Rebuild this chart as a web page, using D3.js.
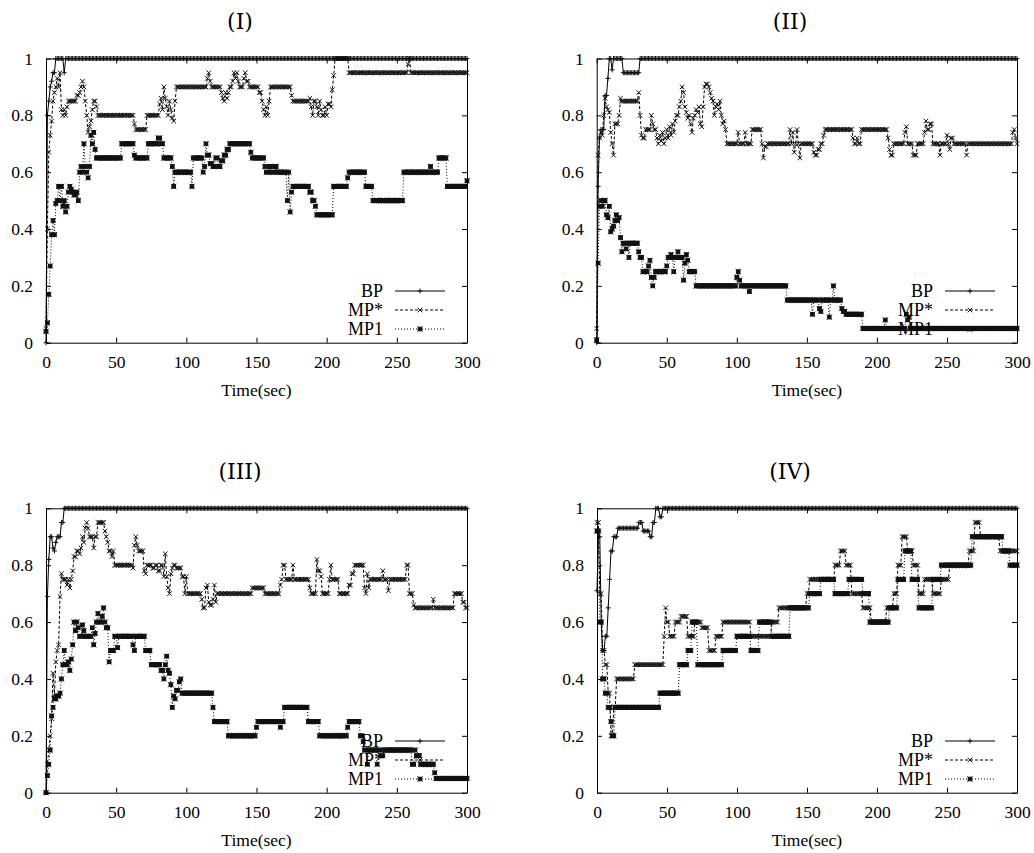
<!DOCTYPE html>
<html><head><meta charset="utf-8">
<script src="https://cdn.jsdelivr.net/npm/d3@7"></script>
<style>
body{margin:0;background:#fff}
svg text{font-family:"Liberation Serif","Times New Roman",serif;fill:#000}
</style>
</head><body><svg id="chart" width="1034" height="853"></svg>
<script>
// ---------- data ----------
const panelTitles = ["(I)", "(II)", "(III)", "(IV)"];
const seriesNames = ["BP", "MP*", "MP1"];
const xTicks = [0, 50, 100, 150, 200, 250, 300];
const yTicks = [0, 0.2, 0.4, 0.6, 0.8, 1];
const yTickLabels = ["0", "0.2", "0.4", "0.6", "0.8", "1"];
const xLabel = "Time(sec)";
const sampleTimes = d3.range(0, 301); // one sample per second

// step breakpoints [time(sec), value]; value holds until the next breakpoint
const I_BP = [[0,0],[1,0.8],[2,0.85],[3,0.9],[4,0.92],[5,0.95],[7,1],[13,0.95],[14,1]];
const I_MPs = [[0,0.05],[1,0.4],[2,0.67],[3,0.73],[4,0.78],[5,0.85],[6,0.88],[7,0.9],[8,0.93],[9,0.9],[10,0.95],[11,0.82],[12,0.8],[13,0.82],[14,0.8],[15,0.83],[16,0.85],[22,0.87],[24,0.88],[25,0.9],[26,0.92],[27,0.9],[28,0.85],[29,0.8],[30,0.74],[31,0.76],[32,0.78],[33,0.82],[34,0.85],[36,0.83],[37,0.8],[63,0.77],[64,0.75],[72,0.8],[81,0.84],[82,0.86],[83,0.82],[84,0.9],[85,0.86],[86,0.83],[87,0.8],[88,0.85],[89,0.82],[90,0.79],[91,0.78],[92,0.85],[93,0.9],[115,0.93],[116,0.95],[117,0.92],[118,0.9],[125,0.88],[126,0.86],[127,0.85],[128,0.88],[129,0.86],[130,0.88],[131,0.9],[133,0.92],[134,0.95],[135,0.93],[136,0.95],[137,0.92],[138,0.9],[141,0.93],[142,0.95],[143,0.92],[145,0.9],[152,0.88],[154,0.85],[155,0.82],[156,0.8],[157,0.83],[158,0.8],[159,0.85],[160,0.9],[175,0.87],[176,0.85],[188,0.86],[189,0.83],[190,0.8],[191,0.85],[193,0.83],[194,0.8],[195,0.85],[196,0.82],[197,0.8],[199,0.83],[200,0.8],[201,0.84],[203,0.83],[204,0.89],[205,0.94],[206,1],[216,0.95],[258,0.98],[259,1],[260,0.95]];
const I_MP1 = [[0,0.04],[1,0.07],[2,0.17],[3,0.27],[4,0.38],[5,0.43],[6,0.38],[7,0.49],[8,0.5],[9,0.55],[10,0.5],[11,0.55],[12,0.48],[13,0.5],[14,0.46],[15,0.48],[16,0.53],[17,0.55],[18,0.54],[19,0.53],[20,0.52],[22,0.53],[23,0.5],[24,0.6],[25,0.62],[26,0.6],[27,0.7],[28,0.62],[29,0.6],[30,0.58],[31,0.62],[32,0.73],[33,0.7],[34,0.74],[35,0.68],[36,0.65],[54,0.7],[63,0.66],[64,0.65],[73,0.7],[80,0.72],[82,0.7],[84,0.65],[90,0.62],[91,0.55],[92,0.6],[104,0.55],[105,0.65],[112,0.6],[113,0.62],[114,0.7],[115,0.66],[117,0.63],[119,0.62],[121,0.65],[123,0.62],[125,0.64],[127,0.66],[129,0.68],[131,0.7],[146,0.67],[147,0.65],[156,0.62],[157,0.6],[159,0.62],[161,0.6],[163,0.62],[165,0.6],[172,0.5],[173,0.6],[174,0.46],[175,0.53],[176,0.55],[188,0.53],[190,0.5],[192,0.48],[193,0.45],[205,0.55],[215,0.58],[216,0.6],[228,0.55],[233,0.5],[255,0.6],[274,0.62],[275,0.6],[280,0.65],[286,0.55],[300,0.57]];

const II_BP = [[0,0],[1,0.55],[2,0.72],[3,0.75],[5,0.75],[6,0.87],[8,0.93],[9,1],[11,0.96],[12,1],[19,0.95],[31,1]];
const II_MPs = [[0,0.05],[1,0.66],[2,0.72],[3,0.74],[4,0.73],[5,0.8],[6,0.86],[7,0.83],[8,0.82],[9,0.81],[10,0.74],[11,0.7],[12,0.66],[13,0.77],[16,0.8],[17,0.86],[18,0.85],[30,0.88],[31,0.8],[32,0.73],[33,0.72],[35,0.75],[39,0.8],[40,0.77],[41,0.75],[43,0.72],[44,0.7],[45,0.73],[46,0.71],[47,0.74],[48,0.7],[49,0.72],[50,0.75],[51,0.72],[52,0.76],[53,0.73],[54,0.77],[55,0.74],[56,0.78],[57,0.8],[59,0.83],[60,0.85],[61,0.9],[62,0.88],[63,0.83],[64,0.81],[65,0.79],[66,0.8],[67,0.77],[68,0.74],[69,0.79],[70,0.8],[71,0.82],[72,0.81],[73,0.83],[74,0.77],[75,0.76],[76,0.83],[77,0.9],[78,0.91],[80,0.9],[81,0.88],[82,0.86],[83,0.85],[84,0.8],[85,0.83],[86,0.84],[87,0.82],[88,0.85],[89,0.8],[90,0.77],[91,0.78],[92,0.75],[93,0.7],[101,0.74],[102,0.7],[106,0.74],[107,0.7],[111,0.75],[118,0.7],[119,0.65],[120,0.69],[122,0.7],[138,0.75],[139,0.7],[140,0.74],[141,0.67],[142,0.7],[143,0.75],[144,0.7],[145,0.65],[146,0.7],[155,0.67],[156,0.66],[158,0.68],[160,0.7],[162,0.73],[163,0.75],[183,0.72],[184,0.7],[186,0.72],[187,0.7],[189,0.75],[208,0.72],[209,0.68],[210,0.66],[212,0.7],[220,0.74],[221,0.76],[222,0.7],[226,0.66],[229,0.7],[234,0.74],[235,0.78],[236,0.75],[238,0.77],[240,0.7],[245,0.66],[246,0.7],[250,0.73],[251,0.7],[252,0.68],[253,0.72],[255,0.7],[264,0.66],[265,0.7],[297,0.74],[298,0.75],[299,0.72],[300,0.7]];
const II_MP1 = [[0,0.01],[1,0.28],[2,0.48],[3,0.5],[4,0.48],[5,0.5],[7,0.45],[8,0.44],[9,0.48],[10,0.39],[11,0.4],[12,0.41],[13,0.43],[14,0.45],[15,0.43],[16,0.44],[17,0.37],[18,0.32],[19,0.35],[21,0.33],[22,0.35],[23,0.3],[24,0.35],[30,0.32],[31,0.3],[33,0.25],[37,0.27],[38,0.29],[39,0.23],[40,0.2],[41,0.23],[42,0.25],[50,0.27],[51,0.3],[53,0.31],[54,0.3],[55,0.25],[56,0.3],[58,0.32],[59,0.3],[62,0.22],[63,0.28],[64,0.31],[65,0.29],[66,0.25],[71,0.2],[100,0.23],[101,0.25],[102,0.22],[103,0.2],[109,0.18],[110,0.2],[136,0.15],[154,0.1],[155,0.15],[159,0.12],[160,0.11],[161,0.15],[166,0.09],[167,0.15],[169,0.2],[170,0.15],[175,0.12],[176,0.11],[178,0.1],[190,0.05],[206,0.08],[207,0.05],[221,0.1],[222,0.08],[223,0.09],[224,0.05]];

const III_BP = [[0,0],[1,0.69],[2,0.82],[3,0.9],[5,0.86],[6,0.85],[7,0.88],[8,0.9],[11,0.95],[13,1]];
const III_MPs = [[0,0],[1,0.1],[2,0.15],[3,0.2],[4,0.26],[5,0.42],[6,0.34],[7,0.46],[8,0.5],[9,0.52],[10,0.69],[11,0.77],[12,0.75],[15,0.73],[16,0.75],[17,0.72],[18,0.75],[19,0.78],[20,0.83],[22,0.85],[24,0.84],[25,0.86],[26,0.9],[27,0.88],[28,0.93],[29,0.95],[30,0.93],[31,0.9],[34,0.86],[35,0.9],[37,0.95],[42,0.92],[43,0.9],[44,0.88],[45,0.85],[47,0.83],[48,0.85],[49,0.8],[62,0.79],[63,0.87],[64,0.9],[65,0.87],[66,0.85],[70,0.78],[71,0.77],[72,0.8],[76,0.79],[78,0.8],[80,0.78],[82,0.8],[84,0.76],[85,0.84],[86,0.76],[87,0.72],[88,0.7],[89,0.77],[90,0.79],[91,0.8],[93,0.79],[97,0.76],[99,0.7],[100,0.76],[101,0.7],[111,0.68],[112,0.65],[114,0.72],[115,0.73],[116,0.67],[117,0.66],[119,0.68],[120,0.73],[121,0.67],[122,0.7],[147,0.72],[156,0.7],[167,0.73],[168,0.75],[169,0.8],[171,0.75],[176,0.8],[177,0.75],[188,0.72],[189,0.7],[193,0.82],[194,0.78],[196,0.76],[197,0.7],[202,0.75],[203,0.8],[204,0.75],[209,0.7],[216,0.73],[218,0.77],[220,0.8],[227,0.72],[228,0.7],[229,0.77],[230,0.72],[231,0.75],[240,0.78],[241,0.75],[244,0.71],[245,0.75],[257,0.8],[259,0.7],[262,0.66],[263,0.65],[276,0.68],[277,0.65],[291,0.7],[297,0.67],[299,0.65]];
const III_MP1 = [[0,0],[1,0.06],[2,0.1],[3,0.15],[4,0.27],[5,0.3],[6,0.33],[8,0.34],[10,0.35],[11,0.4],[12,0.45],[13,0.5],[14,0.45],[16,0.46],[17,0.43],[18,0.47],[19,0.52],[20,0.6],[21,0.57],[22,0.6],[23,0.58],[24,0.55],[26,0.59],[27,0.57],[28,0.55],[33,0.58],[34,0.52],[35,0.56],[36,0.6],[37,0.63],[38,0.6],[40,0.62],[41,0.65],[42,0.6],[43,0.58],[45,0.46],[46,0.5],[49,0.55],[51,0.51],[52,0.55],[62,0.52],[63,0.5],[64,0.55],[71,0.5],[75,0.45],[82,0.43],[84,0.4],[85,0.45],[86,0.48],[87,0.43],[88,0.42],[89,0.38],[90,0.3],[91,0.34],[92,0.33],[93,0.36],[95,0.39],[96,0.4],[97,0.35],[119,0.3],[120,0.25],[130,0.2],[150,0.23],[151,0.25],[167,0.23],[168,0.25],[170,0.3],[187,0.25],[195,0.2],[215,0.23],[216,0.25],[224,0.2],[226,0.18],[227,0.15],[229,0.1],[230,0.15],[236,0.1],[237,0.15],[239,0.13],[241,0.15],[261,0.1],[263,0.15],[264,0.13],[267,0.1],[277,0.07],[278,0.05]];

const IV_BP = [[0,0.71],[1,0.92],[2,0.9],[3,0.6],[4,0.5],[6,0.55],[8,0.65],[9,0.75],[10,0.85],[12,0.9],[15,0.93],[25,0.93],[30,0.95],[33,0.92],[38,0.9],[40,0.95],[42,1],[45,0.97],[47,1]];
const IV_MPs = [[0,0.95],[2,0.7],[4,0.5],[6,0.45],[8,0.35],[10,0.2],[12,0.3],[14,0.4],[27,0.45],[48,0.55],[49,0.65],[50,0.6],[52,0.55],[56,0.6],[60,0.62],[65,0.55],[70,0.6],[75,0.58],[80,0.5],[85,0.55],[90,0.6],[110,0.55],[125,0.6],[130,0.65],[150,0.7],[152,0.75],[170,0.8],[174,0.85],[178,0.8],[182,0.7],[190,0.65],[196,0.6],[207,0.65],[212,0.7],[215,0.8],[218,0.9],[222,0.85],[226,0.8],[230,0.7],[234,0.75],[240,0.7],[246,0.75],[252,0.8],[266,0.85],[270,0.95],[274,0.9],[288,0.85]];
const IV_MP1 = [[0,0.92],[2,0.6],[4,0.4],[6,0.35],[8,0.3],[10,0.25],[11,0.2],[13,0.3],[45,0.35],[59,0.45],[65,0.5],[68,0.6],[72,0.45],[90,0.5],[100,0.55],[110,0.5],[116,0.6],[125,0.55],[138,0.65],[152,0.7],[160,0.75],[170,0.7],[180,0.75],[190,0.7],[195,0.6],[209,0.65],[215,0.75],[220,0.85],[225,0.75],[230,0.65],[240,0.75],[246,0.8],[268,0.9],[290,0.85],[295,0.8]];

// ---------- layout ----------
const layout = [
  {left:46,    right:467,  top:58.5,  bottom:342.7, titleX:240, titleY:29},
  {left:596.7, right:1017, top:58.5,  bottom:342.7, titleX:790, titleY:29},
  {left:46,    right:467,  top:508.3, bottom:792.7, titleX:240, titleY:479},
  {left:597,   right:1017, top:508.3, bottom:792.7, titleX:790, titleY:479}
];
const panelData = [[I_BP,I_MPs,I_MP1],[II_BP,II_MPs,II_MP1],[III_BP,III_MPs,III_MP1],[IV_BP,IV_MPs,IV_MP1]];

function expand(bps){
  return sampleTimes.map(t=>{
    let v = bps[0][1];
    for (const [bt,bv] of bps){ if (bt<=t) v=bv; else break; }
    return [t,v];
  });
}

const markerPaths = [
  "M-2.5,0H2.5M0,-2.5V2.5",
  "M-2.3,-2.3L2.3,2.3M-2.3,2.3L2.3,-2.3",
  "M-1.8,-1.8H1.8V1.8H-1.8Z M-2.6,-2.6L2.6,2.6M-2.6,2.6L2.6,-2.6"
];
const dashes = [null, "3,2", "1,2"];

const svg = d3.select("#chart");
const FS = 17.5;
const SERIF = "'Liberation Serif','Times New Roman',serif";

layout.forEach((p, pi)=>{
  const g = svg.append("g");
  const x = d3.scaleLinear().domain([0,300]).range([p.left,p.right]);
  const y = d3.scaleLinear().domain([0,1]).range([p.bottom,p.top]);

  g.append("text").attr("x",p.titleX).attr("y",p.titleY)
    .attr("text-anchor","middle")
    .style("font-family","'DejaVu Serif',serif").style("font-size","22px")
    .text(panelTitles[pi]);

  panelData[pi].forEach((bps, si)=>{
    const pts = expand(bps);
    const line = d3.line().x(d=>x(d[0])).y(d=>y(d[1]));
    g.append("path").attr("d",line(pts)).attr("fill","none")
      .attr("stroke","#000").attr("stroke-width",1)
      .attr("stroke-dasharray",dashes[si]);
    g.append("g").selectAll("path").data(pts).join("path")
      .attr("transform",d=>`translate(${x(d[0])},${y(d[1])})`)
      .attr("d",markerPaths[si])
      .attr("fill","#111").attr("stroke","#111").attr("stroke-width",1);
  });

  const axB = g.append("g").attr("transform",`translate(0,${p.bottom})`)
    .call(d3.axisBottom(x).tickValues(xTicks).tickSizeInner(-5).tickSizeOuter(0).tickPadding(13).tickFormat(d3.format("d")));
  const axT = g.append("g").attr("transform",`translate(0,${p.top})`)
    .call(d3.axisTop(x).tickValues(xTicks).tickSizeInner(-5).tickSizeOuter(0).tickFormat(""));
  const axL = g.append("g").attr("transform",`translate(${p.left},0)`)
    .call(d3.axisLeft(y).tickValues(yTicks).tickSizeInner(-5).tickSizeOuter(0).tickPadding(13).tickFormat((d,i)=>yTickLabels[i]));
  const axR = g.append("g").attr("transform",`translate(${p.right},0)`)
    .call(d3.axisRight(y).tickValues(yTicks).tickSizeInner(-5).tickSizeOuter(0).tickFormat(""));
  [axB,axT,axL,axR].forEach(a=>{
    a.attr("font-family",SERIF).attr("font-size",FS);
    a.selectAll("text").style("font-size",FS+"px").style("font-family",SERIF);
    a.selectAll("path,line").attr("stroke","#000");
  });

  g.append("text").attr("x",(p.left+p.right)/2).attr("y",p.bottom+53)
    .attr("text-anchor","middle").style("font-size",FS+"px").text(xLabel);

  seriesNames.forEach((name, si)=>{
    const ly = p.bottom - 51.7 + si*19;
    g.append("text").attr("x",p.right-84).attr("y",ly+6)
      .attr("text-anchor","end").style("font-size","18px").text(name);
    g.append("line").attr("x1",p.right-72).attr("x2",p.right-22)
      .attr("y1",ly).attr("y2",ly).attr("stroke","#000").attr("stroke-width",1)
      .attr("stroke-dasharray",dashes[si]);
    g.append("path").attr("transform",`translate(${p.right-47},${ly})`)
      .attr("d",markerPaths[si]).attr("fill","#111").attr("stroke","#111");
  });
});
</script>
</body></html>
